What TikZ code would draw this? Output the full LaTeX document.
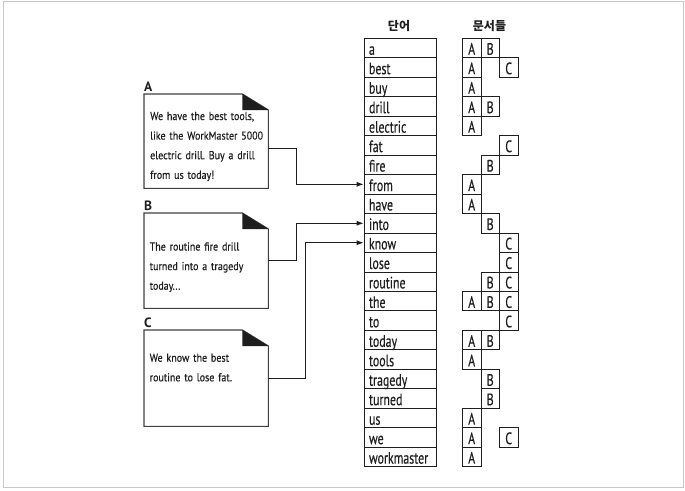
\documentclass[tikz,border=0pt]{standalone}
\usepackage{fontspec}
\setmainfont{PT Sans}
\newfontfamily\docfont[FakeStretch=0.87,FakeBold=0.4]{PT Sans}
\newfontfamily\wordfont[FakeStretch=0.72,FakeBold=0.4]{PT Sans}
\newfontfamily\krfont{Noto Sans CJK KR}
\usetikzlibrary{arrows.meta}
\definecolor{ink}{HTML}{1E1E1E}
\definecolor{framegray}{HTML}{C8C8C8}
\tikzset{
  framebox/.style={draw=framegray, line width=0.9pt},
  wordbox/.style={draw=ink, line width=0.8pt, minimum width=72pt, minimum height=19.47pt,
    inner xsep=5pt, inner ysep=0pt, text width=62pt, align=left,
    text height=15pt, text depth=1.6pt, font=\wordfont\fontsize{16.5}{18}\selectfont, text=ink},
  cellbox/.style={draw=ink, line width=0.8pt, minimum width=18.5pt, minimum height=19.47pt,
    inner sep=0pt, text height=15pt, text depth=1.6pt, font=\wordfont\fontsize{16.5}{18}\selectfont, text=ink},
  header/.style={font=\krfont\bfseries\fontsize{12}{14}\selectfont, text=ink, inner sep=0pt},
  docline/.style={draw=ink!85, line width=1.1pt, fill=white},
  foldtri/.style={fill=ink},
  docarea/.style={inner sep=0pt, anchor=north west},
  doclabel/.style={font=\bfseries\fontsize{13.5}{15}\selectfont, text=ink, inner sep=0pt, anchor=base west},
  doctext/.style={font=\docfont\fontsize{11.5}{19.6}\selectfont\frenchspacing, text=ink, inner sep=0pt,
    anchor=base west, text width=118pt, align=left},
  conn/.style={draw=ink, line width=0.8pt, -{Latex[length=7pt,width=5pt]}},
}
\begin{document}
\begin{tikzpicture}[x=1pt,y=-1pt]
\useasboundingbox (0,0) rectangle (685,490);
\draw[framebox] (3,1.5) rectangle (683,487);

% headers
\node[header] (hword) at (399,26) {단어};
\node[header] (hdocs) at (489.5,26) {문서들};

% word table
\foreach \w [count=\i] in {a,best,buy,drill,electric,fat,fire,from,have,into,know,lose,routine,the,to,today,tools,tragedy,turned,us,we,workmaster}
  \node[wordbox] (w\i) at (400,{38.3+(\i-0.5)*19.47}) {\w};

% document cells
\foreach \r/\c/\x in {1/A/471.7,1/B/490.2,2/A/471.7,2/C/508.7,3/A/471.7,4/A/471.7,4/B/490.2,
  5/A/471.7,6/C/508.7,7/B/490.2,8/A/471.7,9/A/471.7,10/B/490.2,11/C/508.7,12/C/508.7,
  13/B/490.2,13/C/508.7,14/A/471.7,14/B/490.2,14/C/508.7,15/C/508.7,16/A/471.7,16/B/490.2,
  17/A/471.7,18/B/490.2,19/B/490.2,20/A/471.7,21/A/471.7,21/C/508.7,22/A/471.7}
  \node[cellbox] (d\r\c) at (\x,{38.3+(\r-0.5)*19.47}) {\c};

% document A
\node[docarea, minimum width=124pt, minimum height=94pt] (docA) at (144,94) {};
\draw[docline] (docA.north west) -- ([xshift=-26pt]docA.north east) -- ([yshift=-16pt]docA.north east) -- (docA.south east) -- (docA.south west) -- cycle;
\fill[foldtri] ([xshift=-26pt]docA.north east) -- ([xshift=-26pt,yshift=-16pt]docA.north east) -- ([yshift=-16pt]docA.north east) -- cycle;
\node[doclabel] (labA) at (144,91.5) {A};
\node[doctext] (txtA) at (150,120) {We have the best tools,\\like the WorkMaster 5000\\electric drill. Buy a drill\\from us today!};

% document B
\node[docarea, minimum width=124pt, minimum height=95pt] (docB) at (144,213) {};
\draw[docline] (docB.north west) -- ([xshift=-26pt]docB.north east) -- ([yshift=-16pt]docB.north east) -- (docB.south east) -- (docB.south west) -- cycle;
\fill[foldtri] ([xshift=-26pt]docB.north east) -- ([xshift=-26pt,yshift=-16pt]docB.north east) -- ([yshift=-16pt]docB.north east) -- cycle;
\node[doclabel] (labB) at (144,210.7) {B};
\node[doctext] (txtB) at (149.5,250.5) {The routine fire drill\\turned into a tragedy\\today...};

% document C
\node[docarea, minimum width=124pt, minimum height=96pt] (docC) at (144,330) {};
\draw[docline] (docC.north west) -- ([xshift=-26pt]docC.north east) -- ([yshift=-16pt]docC.north east) -- (docC.south east) -- (docC.south west) -- cycle;
\fill[foldtri] ([xshift=-26pt]docC.north east) -- ([xshift=-26pt,yshift=-16pt]docC.north east) -- ([yshift=-16pt]docC.north east) -- cycle;
\node[doclabel] (labC) at (144,327.7) {C};
\node[doctext] (txtC) at (149.5,361.7) {We know the best\\routine to lose fat.};

% connectors
\coordinate (oA) at (docA.east |- 0,148);
\coordinate (oB) at (docB.east |- 0,260);
\coordinate (oC) at (docC.east |- 0,378);
\draw[conn] (oA) -- (296,148) |- (w8.west);
\draw[conn] (oB) -- (296,260) |- (w10.west);
\draw[conn] (oC) -- (305,378) |- (w11.west);
\end{tikzpicture}
\end{document}
